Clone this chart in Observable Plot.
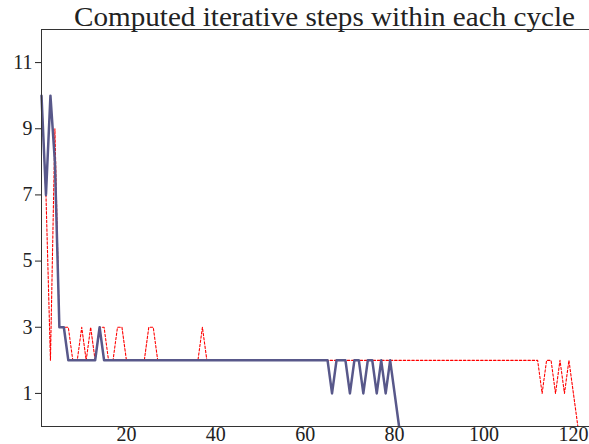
<!DOCTYPE html>
<html><head><meta charset="utf-8">
<script src="https://cdn.jsdelivr.net/npm/d3@7"></script>
<script src="https://cdn.jsdelivr.net/npm/@observablehq/plot@0.6"></script>
<style>body{margin:0;background:#fff;}</style>
</head><body><div id="chart"></div>
<script>
const titleText = "Computed iterative steps within each cycle";
const xTicks = [20, 40, 60, 80, 100, 120];
const yTicks = [1, 3, 5, 7, 9, 11];
// series drawn solid (dark slate blue)
const solidSteps = [
  10,7,10,8,3,3,2,2,2,2,
  2,2,2,3,2,2,2,2,2,2,
  2,2,2,2,2,2,2,2,2,2,
  2,2,2,2,2,2,2,2,2,2,
  2,2,2,2,2,2,2,2,2,2,
  2,2,2,2,2,2,2,2,2,2,
  2,2,2,2,2,1,2,2,2,1,
  2,2,1,2,2,1,2,1,2,1,
  0
];
// series drawn dashed (red)
const dashedSteps = [
  10,7,2,9,3,3,3,2,2,3,
  2,3,2,3,3,2,2,3,3,2,
  2,2,2,2,3,3,2,2,2,2,
  2,2,2,2,2,2,3,2,2,2,
  2,2,2,2,2,2,2,2,2,2,
  2,2,2,2,2,2,2,2,2,2,
  2,2,2,2,2,2,2,2,2,2,
  2,2,2,2,2,2,2,2,2,2,
  2,2,2,2,2,2,2,2,2,2,
  2,2,2,2,2,2,2,2,2,2,
  2,2,2,2,2,2,2,2,2,2,
  2,2,1,2,2,1,2,1,2,1,
  0
];
const solid = solidSteps.map((v, i) => ({cycle: i + 1, steps: v}));
const dashed = dashedSteps.map((v, i) => ({cycle: i + 1, steps: v}));

const chart = Plot.plot({
  width: 589, height: 444,
  marginLeft: 41, marginRight: 0, marginTop: 29, marginBottom: 18,
  style: {fontFamily: "'Liberation Serif', serif", fontSize: "20px", color: "#222", background: "#fff", overflow: "visible"},
  x: {domain: [1, 123.6], ticks: xTicks, tickSize: 0, tickPadding: 0, label: null},
  y: {domain: [0, 12], ticks: yTicks, tickSize: 6, tickPadding: 3, label: null},
  marks: [
    Plot.lineY(dashed, {x: "cycle", y: "steps", stroke: "#ff0000", strokeWidth: 1.1, strokeDasharray: "2.5,1.8"}),
    Plot.lineY(solid, {x: "cycle", y: "steps", stroke: "#58588a", strokeWidth: 2.5}),
    Plot.ruleX([1], {stroke: "#333", strokeWidth: 1}),
    Plot.ruleY([0], {stroke: "#333", strokeWidth: 1}),
    Plot.ruleY([12], {stroke: "#333", strokeWidth: 1})
  ]
});
d3.select(chart).append("text")
  .attr("x", 74).attr("y", 26)
  .attr("text-anchor", "start")
  .attr("font-size", 28)
  .attr("fill", "#222")
  .attr("textLength", 501)
  .attr("lengthAdjust", "spacingAndGlyphs")
  .text(titleText);
document.getElementById("chart").appendChild(chart);
</script>
</body></html>
